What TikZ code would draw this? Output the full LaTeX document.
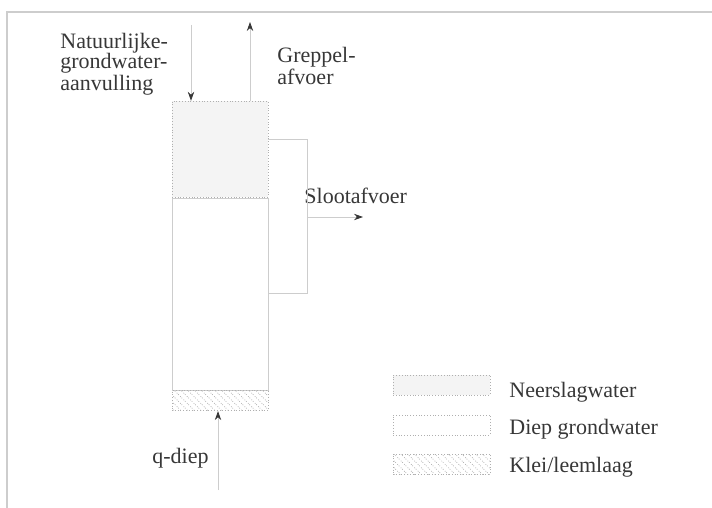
\documentclass[tikz,border=0pt]{standalone}
\usepackage{fontspec}
\setmainfont{Liberation Serif}
\usepackage{tikz}
\usetikzlibrary{arrows.meta,positioning,patterns.meta}
\definecolor{inkgray}{RGB}{55,55,55}
\definecolor{linegray}{RGB}{175,175,175}
\definecolor{palegray}{RGB}{205,205,205}
\definecolor{rainfill}{RGB}{244,244,244}
\tikzset{
  layer/.style={
    rectangle,
    draw=palegray,
    line width=0.4pt,
    inner sep=0pt,
    minimum width=48pt
  },
  rainbox/.style={
    layer,
    draw=linegray,
    densely dotted,
    fill=rainfill
  },
  claybox/.style={
    layer,
    draw=linegray,
    densely dotted,
    pattern={Lines[angle=-45,distance=2.4pt,line width=0.35pt]},
    pattern color=linegray
  },
  label/.style={
    inner sep=0pt,
    text=inkgray,
    font=\fontsize{11}{10}\selectfont,
    align=left
  },
  wall/.style={draw=palegray, line width=0.4pt},
  flow/.style={wall, -{Stealth[length=4.5pt,width=3.2pt,color=inkgray]}}
}

\begin{document}
\begin{tikzpicture}[x=0.5pt,y=-0.5pt]
    \useasboundingbox (0,0) rectangle (712,508);
    % frame
    \draw[palegray, line width=0.6pt] (7,508) -- (7,12) -- (712,12);

    % column
    \node[layer, minimum height=96pt] (deep) at (220,294) {};
    \node[rainbox, minimum height=48pt, above=0pt of deep] (rain) {};
    \node[claybox, minimum height=10pt, below=0pt of deep] (clay) {};

    % legend
    \node[rainbox, minimum width=48.5pt, minimum height=10pt] (keyrain) at (441.5,385) {};
    \node[layer, densely dotted, draw=linegray, minimum width=48.5pt, minimum height=10pt] (keydeep) at (441.5,425) {};
    \node[claybox, minimum width=48.5pt, minimum height=10pt] (keyclay) at (441.5,464) {};
    \node[label, anchor=base west] at (509,397) {Neerslagwater};
    \node[label, anchor=base west] at (509,434) {Diep grondwater};
    \node[label, anchor=base west] at (509,472) {Klei/leemlaag};

    % fluxes
    \node[label, anchor=north west] (recharge) at (60,33) {Natuurlijke-\\grondwater-\\aanvulling};
    \node[label, anchor=north west] (trench) at (277,47) {Greppel-\\afvoer};
    \node[label, anchor=base west] (ditch) at (304,203) {Slootafvoer};
    \node[label, anchor=base west] (seepage) at (152,463) {q-diep};

    \coordinate (rechargetop) at (191,25);
    \coordinate (trenchtop) at (250,22);
    \coordinate (seepagebot) at (218,490);
    \coordinate (ditchtop) at (307,139);
    \coordinate (ditchbot) at (307,293);
    \coordinate (ditchmid) at (307,217);
    \coordinate (ditchend) at (363,217);

    \draw[flow] (rechargetop) -- (rechargetop |- rain.north);
    \draw[flow] (trenchtop |- rain.north) -- (trenchtop);
    \draw[flow] (seepagebot) -- (seepagebot |- clay.south);
    \draw[wall] (rain.east |- ditchtop) -- (ditchtop) -- (ditchbot) -- (rain.east |- ditchbot);
    \draw[flow] (ditchmid) -- (ditchend);
  \end{tikzpicture}
\end{document}
